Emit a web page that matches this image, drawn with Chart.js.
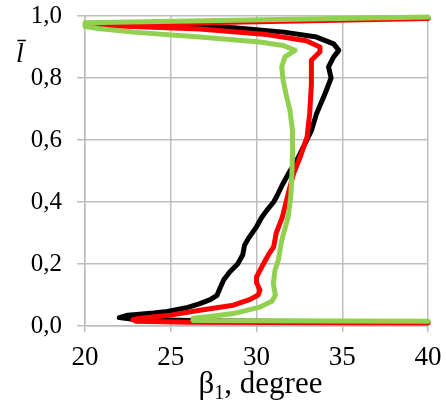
<!DOCTYPE html>
<html>
<head>
<meta charset="utf-8">
<script src="https://cdn.jsdelivr.net/npm/chart.js@4/dist/chart.umd.min.js"></script>
<style>
  html, body { margin: 0; padding: 0; background: #ffffff; }
  #wrap { width: 446px; height: 409px; }
</style>
</head>
<body>
<div id="wrap"><canvas id="c" width="446" height="409"></canvas></div>
<script>
// ---- data ----
const xTicks = [20, 25, 30, 35, 40];
const yTickLabels = ['0,0', '0,2', '0,4', '0,6', '0,8', '1,0'];
const xTitle = 'β';
const xTitleSub = '1';
const xTitleRest = ', degree';
const yTitle = 'l\u0304';

const blackX = [40, 30, 23, 22.0, 22.5, 24.0, 24.8, 26.0, 26.7, 27.3, 27.7, 27.9, 28.1, 28.45, 28.9, 29.2, 29.3, 29.5, 30.0, 30.3, 30.6, 31.0, 31.2, 31.5, 31.95, 32.4, 32.8, 33.2, 33.5, 34.0, 34.35, 34.2, 34.5, 34.8, 34.5, 33.5, 31.6, 28.7, 24.8, 20.1, 40];
const blackY = [0.012, 0.015, 0.02, 0.027, 0.035, 0.042, 0.047, 0.06, 0.072, 0.085, 0.099, 0.126, 0.15, 0.175, 0.2, 0.23, 0.26, 0.28, 0.32, 0.35, 0.373, 0.4, 0.42, 0.455, 0.5, 0.54, 0.585, 0.63, 0.685, 0.75, 0.8, 0.836, 0.868, 0.889, 0.91, 0.932, 0.948, 0.962, 0.971, 0.976, 0.994];

const redX = [40, 26, 23.0, 22.8, 23.2, 25.0, 26.7, 28.65, 29.6, 30.1, 30.2, 30.0, 30.0, 30.4, 30.7, 31.0, 31.15, 31.5, 31.85, 32.15, 32.55, 32.95, 33.1, 33.2, 33.2, 33.7, 33.7, 32.9, 30.6, 26.7, 22.8, 20.1, 40];
const redY = [0.01, 0.012, 0.015, 0.02, 0.025, 0.035, 0.051, 0.067, 0.085, 0.1, 0.115, 0.14, 0.158, 0.2, 0.23, 0.255, 0.3, 0.35, 0.427, 0.49, 0.545, 0.61, 0.685, 0.78, 0.857, 0.885, 0.9, 0.92, 0.94, 0.958, 0.966, 0.971, 0.992];

const greenX = [40, 26.3, 26.3, 27.5, 28.65, 30.2, 30.9, 31.1, 30.98, 31.08, 31.27, 31.47, 31.85, 32.0, 32.05, 32.1, 32.1, 31.95, 31.76, 31.56, 31.47, 31.66, 32.25, 31.56, 30.2, 26.7, 22.8, 20.9, 20.0, 20.0, 40];
const greenY = [0.015, 0.018, 0.025, 0.032, 0.04, 0.061, 0.08, 0.099, 0.137, 0.18, 0.212, 0.276, 0.352, 0.42, 0.47, 0.55, 0.63, 0.696, 0.739, 0.79, 0.836, 0.868, 0.889, 0.905, 0.916, 0.932, 0.948, 0.959, 0.966, 0.978, 0.997];

function pts(xs, ys) { return xs.map((x, i) => ({ x: x, y: ys[i] })); }

const gridColor = '#bdbdbd';
const serif = '"Liberation Serif", "Times New Roman", serif';

const axisTitles = {
  id: 'axisTitles',
  afterDraw(chart) {
    const ctx = chart.ctx;
    ctx.save();
    ctx.fillStyle = '#000';
    ctx.textBaseline = 'alphabetic';
    ctx.textAlign = 'left';
    const big = '31px ' + serif, small = '20px ' + serif;
    ctx.font = big; const w1 = ctx.measureText(xTitle).width;
    const w3 = ctx.measureText(xTitleRest).width;
    ctx.font = small; const w2 = ctx.measureText(xTitleSub).width;
    const total = w1 + w2 + w3;
    const cx = (chart.chartArea.left + chart.chartArea.right) / 2 + 4;
    let x = cx - total / 2;
    const base = 393;
    ctx.font = big; ctx.fillText(xTitle, x, base); x += w1;
    ctx.font = small; ctx.fillText(xTitleSub, x, base + 6); x += w2;
    ctx.font = big; ctx.fillText(xTitleRest, x, base);
    ctx.font = 'italic 28px ' + serif;
    ctx.fillText(yTitle, 16, 62);
    ctx.restore();
  }
};

new Chart(document.getElementById('c'), {
  type: 'scatter',
  data: {
    datasets: [
      { label: 'green', data: pts(greenX, greenY), borderColor: '#92d050', backgroundColor: '#92d050' },
      { label: 'red', data: pts(redX, redY), borderColor: '#ff0000', backgroundColor: '#ff0000' },
      { label: 'black', data: pts(blackX, blackY), borderColor: '#000000', backgroundColor: '#000000' }
    ].map(d => Object.assign(d, {
      showLine: true, pointRadius: 0, borderWidth: 5, tension: 0,
      borderJoinStyle: 'round', borderCapStyle: 'round', clip: 6
    }))
  },
  options: {
    responsive: false,
    animation: false,
    devicePixelRatio: 1,
    layout: { padding: { top: 16, right: 18, left: 0, bottom: 0 } },
    plugins: { legend: { display: false }, tooltip: { enabled: false } },
    scales: {
      x: {
        type: 'linear', min: 20, max: 40,
        afterBuildTicks(s) { s.ticks = xTicks.map(v => ({ value: v })); },
        afterFit(s) { s.height = 83; s.paddingLeft = 0; s.paddingRight = 0; },
        grid: { color: gridColor, lineWidth: 1.5, tickLength: 6, drawTicks: true },
        border: { color: gridColor, width: 1.5 },
        ticks: { color: '#000', font: { family: serif, size: 27 }, padding: 10, maxRotation: 0,
                 callback: (v) => String(v) }
      },
      y: {
        type: 'linear', min: 0, max: 1,
        afterBuildTicks(s) { s.ticks = yTickLabels.map((t, i) => ({ value: i * 0.2 })); },
        afterFit(s) { s.width = 85; s.paddingTop = 0; s.paddingBottom = 0; },
        grid: { color: gridColor, lineWidth: 1.5, tickLength: 8, drawTicks: true },
        border: { color: gridColor, width: 1.5 },
        ticks: { color: '#000', font: { family: serif, size: 25 }, padding: 15,
                 callback: (v, i) => yTickLabels[i] }
      }
    }
  },
  plugins: [axisTitles]
});
</script>
</body>
</html>
